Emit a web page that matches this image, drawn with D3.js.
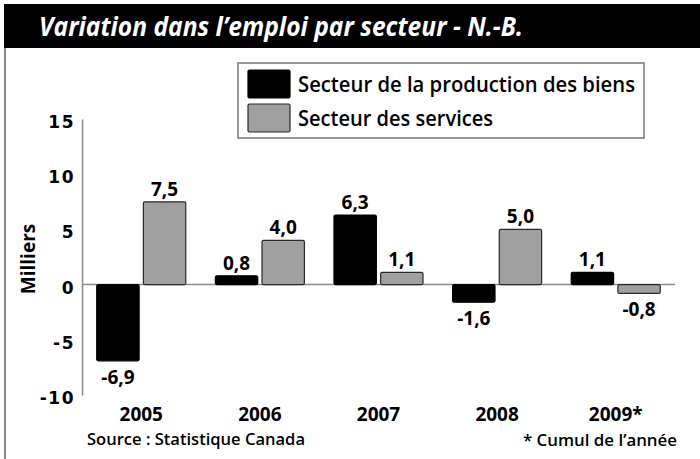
<!DOCTYPE html>
<html>
<head>
<meta charset="utf-8">
<script src="https://cdn.jsdelivr.net/npm/d3@7"></script>
<style>
  body { margin: 0; background: #fff; }
  svg { display: block; }
  .txt { font-family: "Open Sans", "Noto Sans", sans-serif; font-weight: 700; fill: #000; }
  .axis--y text { font-family: "DejaVu Sans", sans-serif; font-weight: 700; font-size: 17px; letter-spacing: 1.5px; fill: #000; }
</style>
</head>
<body>
<div id="chart"></div>
<script>
const years = ['2005', '2006', '2007', '2008', '2009*'];
const seriesNames = ['Secteur de la production des biens', 'Secteur des services'];
const biens = [-6.9, 0.8, 6.3, -1.6, 1.1];
const services = [7.5, 4.0, 1.1, 5.0, -0.8];
const yTicks = [-10, -5, 0, 5, 10, 15];

const W = 700, H = 459;
const colors = ['#000000', '#a0a0a0'];
const strokes = ['#000000', '#2a2a2a'];

const fr = d3.formatLocale({decimal: ',', thousands: ' ', grouping: [3], currency: ['', ' $'], minus: '-'});
const fmt = fr.format('.1f');
const fmtTick = fr.format('d');

const rows = years.map((yr, i) => ({year: yr, values: [biens[i], services[i]]}));

const svg = d3.select('#chart').append('svg')
    .attr('width', W)
    .attr('height', H);

// title bar and frame
svg.append('rect')
    .attr('x', 4).attr('y', 4)
    .attr('width', W - 4).attr('height', 44)
    .attr('fill', '#000');

svg.append('line')
    .attr('x1', 5).attr('x2', 5)
    .attr('y1', 48).attr('y2', H)
    .attr('stroke', '#8a8a8a')
    .attr('stroke-width', 2);

svg.append('text')
    .attr('class', 'txt')
    .attr('x', 39).attr('y', 36)
    .attr('textLength', 484)
    .attr('lengthAdjust', 'spacingAndGlyphs')
    .style('font-size', '27px')
    .style('font-style', 'italic')
    .style('fill', '#fff')
    .text('Variation dans l\u2019emploi par secteur - N.-B.');

const x = d3.scaleBand()
    .domain(years)
    .range([82, 675])
    .paddingInner(0.241)
    .paddingOuter(0.12);

const x1 = d3.scaleBand()
    .domain([0, 1])
    .range([0, x.bandwidth()])
    .paddingInner(0.07);

const y = d3.scaleLinear()
    .domain([-10, 15])
    .range([395, 119]);

// y axis
const yAxis = d3.axisLeft(y)
    .tickValues(yTicks)
    .tickFormat(fmtTick)
    .tickSize(0)
    .tickSizeOuter(0)
    .tickPadding(7);

const gy = svg.append('g')
    .attr('class', 'axis axis--y')
    .attr('transform', 'translate(82,0)')
    .call(yAxis);

gy.select('.domain')
    .attr('stroke', '#8a8a8a')
    .attr('stroke-width', 1.5);

gy.selectAll('.tick text').attr('dy', '0.5em');

// zero line
svg.append('line')
    .attr('x1', 82).attr('x2', 675)
    .attr('y1', y(0)).attr('y2', y(0))
    .attr('stroke', '#8a8a8a')
    .attr('stroke-width', 1.5);

// bars
const groups = svg.selectAll('.grp')
    .data(rows)
  .enter().append('g')
    .attr('class', 'grp')
    .attr('transform', d => `translate(${x(d.year)},0)`);

groups.selectAll('rect')
    .data(d => d.values.map((v, k) => ({v, k})))
  .enter().append('rect')
    .attr('x', d => x1(d.k) + 0.5)
    .attr('width', x1.bandwidth() - 1)
    .attr('y', d => y(Math.max(0, d.v)))
    .attr('height', d => Math.abs(y(d.v) - y(0)))
    .attr('rx', 1.5)
    .attr('fill', d => colors[d.k])
    .attr('stroke', d => strokes[d.k])
    .attr('stroke-width', 1.2);

groups.selectAll('.val')
    .data(d => d.values.map((v, k) => ({v, k})))
  .enter().append('text')
    .attr('class', 'txt val')
    .attr('x', d => x1(d.k) + x1.bandwidth() / 2)
    .attr('y', d => d.v >= 0 ? y(d.v) - 6 : y(d.v) + 23)
    .attr('text-anchor', 'middle')
    .style('font-size', '19px')
    .text(d => fmt(d.v));

// year labels
svg.selectAll('.year')
    .data(years)
  .enter().append('text')
    .attr('class', 'txt year')
    .attr('x', d => x(d) + x.bandwidth() / 2)
    .attr('y', 421)
    .attr('text-anchor', 'middle')
    .style('font-size', '19px')
    .text(d => d);

// y title
svg.append('text')
    .attr('class', 'txt')
    .attr('transform', 'translate(35,259) rotate(-90)')
    .attr('text-anchor', 'middle')
    .style('font-size', '19px')
    .text('Milliers');

// legend
const legend = svg.append('g').attr('class', 'legend');

legend.append('rect')
    .attr('x', 238).attr('y', 63)
    .attr('width', 406).attr('height', 75)
    .attr('fill', '#fff')
    .attr('stroke', '#777')
    .attr('stroke-width', 1.5);

const legendWidths = [337, 195];

const li = legend.selectAll('.legend-item')
    .data(seriesNames)
  .enter().append('g')
    .attr('class', 'legend-item')
    .attr('transform', (d, i) => `translate(248,${70 + i * 34})`);

li.append('rect')
    .attr('width', 42).attr('height', 28)
    .attr('rx', 1.5)
    .attr('fill', (d, i) => colors[i])
    .attr('stroke', (d, i) => strokes[i])
    .attr('stroke-width', 1.2);

li.append('text')
    .attr('class', 'txt')
    .attr('x', 50).attr('y', 22)
    .attr('textLength', (d, i) => legendWidths[i])
    .attr('lengthAdjust', 'spacingAndGlyphs')
    .style('font-size', '21px')
    .style('font-weight', 600)
    .text(d => d);

// footnotes
svg.append('text')
    .attr('class', 'txt')
    .attr('x', 87).attr('y', 445)
    .attr('textLength', 218)
    .attr('lengthAdjust', 'spacingAndGlyphs')
    .style('font-size', '17px')
    .style('font-weight', 600)
    .text('Source : Statistique Canada');

svg.append('text')
    .attr('class', 'txt')
    .attr('x', 523).attr('y', 446)
    .attr('textLength', 154)
    .attr('lengthAdjust', 'spacingAndGlyphs')
    .style('font-size', '17px')
    .style('font-weight', 600)
    .text('* Cumul de l\u2019ann\u00e9e');
</script>
</body>
</html>
